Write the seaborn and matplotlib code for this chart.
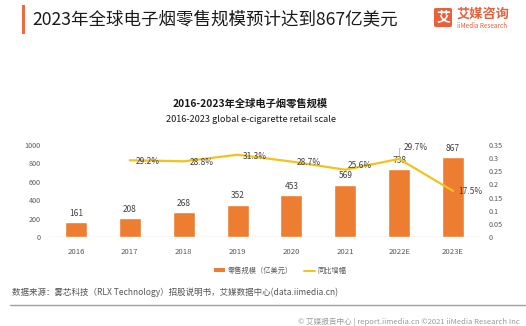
import numpy as np
import pandas as pd
import matplotlib
matplotlib.use("Agg")
import matplotlib.pyplot as plt
from matplotlib.patches import FancyBboxPatch, Rectangle
from matplotlib.lines import Line2D
import seaborn as sns

# ---- data ----
years = ["2016", "2017", "2018", "2019", "2020", "2021", "2022E", "2023E"]
retail = [161, 208, 268, 352, 453, 569, 738, 867]
growth = [np.nan, 0.292, 0.288, 0.313, 0.287, 0.256, 0.297, 0.175]
growth_labels = ["", "29.2%", "28.8%", "31.3%", "28.7%", "25.6%", "29.7%", "17.5%"]
left_ticks = [0, 200, 400, 600, 800, 1000]
right_ticks = [0, 0.05, 0.1, 0.15, 0.2, 0.25, 0.3, 0.35]
right_tick_labels = ["0", "0.05", "0.1", "0.15", "0.2", "0.25", "0.3", "0.35"]

sns.set_style("white")
plt.rcParams['font.family'] = ['Noto Sans CJK SC', 'DejaVu Sans']

W, H = 526, 326
fig = plt.figure(figsize=(W / 100, H / 100), dpi=100)
fig.patch.set_facecolor("white")

def px(x, y):
    return x / W, 1 - y / H

BAR = "#ED7D31"
LINE = "#F4C21C"
TXT = "#404040"
TICK = "#595959"

# ---- header ----
fig.patches.append(Rectangle(px(22, 34), 3 / W, 29 / H, transform=fig.transFigure,
                             facecolor="#EE6A3A", edgecolor="none"))
fig.text(*px(32, 19), "2023年全球电子烟零售规模预计达到867亿美元", fontsize=12.6,
         color="#1a1a1a", va="center", ha="left")
# logo
fig.patches.append(FancyBboxPatch(px(434, 27), 18 / W, 19 / H, transform=fig.transFigure,
                                  boxstyle="round,pad=0,rounding_size=0.004",
                                  facecolor="#E8603C", edgecolor="none"))
fig.text(*px(443, 17.5), "艾", fontsize=10, color="white", fontweight="bold",
         ha="center", va="center")
fig.text(*px(457, 14), "艾媒咨询", fontsize=9.5, color="#E8603C", fontweight="bold",
         ha="left", va="center")
fig.text(*px(457, 25.5), "iiMedia Research", fontsize=4.6, color="#E8603C",
         ha="left", va="center")

# ---- chart titles ----
fig.text(*px(250, 103), "2016-2023年全球电子烟零售规模", fontsize=7.4, fontweight="bold",
         color="#1a1a1a", ha="center", va="center")
fig.text(*px(251, 119), "2016-2023 global e-cigarette retail scale", fontsize=6.6,
         color="#1a1a1a", ha="center", va="center")

# ---- axes ----
left, right_, top, bottom = 49, 480, 145, 237
ax = fig.add_axes([left / W, 1 - bottom / H, (right_ - left) / W, (bottom - top) / H])
df = pd.DataFrame({"year": years, "retail": retail})
sns.barplot(data=df, x="year", y="retail", color=BAR, width=0.41, saturation=1,
            ax=ax, zorder=2)
ax.set_xlim(-0.5, len(years) - 0.5)
ax.set_ylim(0, 1000)
ax.set_yticks(left_ticks)
ax.set_xlabel("")
ax.set_ylabel("")
for s in ax.spines.values():
    s.set_visible(False)
ax.axhline(0, color="#D9D9D9", lw=1, zorder=1)
ax.tick_params(axis="y", labelsize=5.2, colors=TICK, length=0, pad=6)
ax.tick_params(axis="x", labelsize=5.6, colors=TICK, length=0, pad=8)
for i, v in enumerate(retail):
    ax.annotate(str(v), (i, v), xytext=(0, 3), textcoords="offset points",
                ha="center", va="bottom", fontsize=6, color=TXT)

ax2 = ax.twinx()
pos = np.arange(len(years))
gdf = pd.DataFrame({"pos": pos, "growth": growth}).dropna()
sns.lineplot(data=gdf, x="pos", y="growth", color=LINE, lw=1.6, ax=ax2, zorder=3)
ax2.set_ylim(0, 0.35)
ax2.set_yticks(right_ticks)
ax2.set_yticklabels(right_tick_labels)
ax2.set_ylabel("")
ax2.set_xlabel("")
for s in ax2.spines.values():
    s.set_visible(False)
ax2.tick_params(axis="y", labelsize=5.2, colors=TICK, length=0, pad=6)
for lbl in ax2.get_yticklabels():
    lbl.set_ha("left")
ax2.set_xlim(-0.5, len(years) - 0.5)

offsets = {1: (4, -1), 2: (4, -1), 3: (4, -1), 4: (4, -1), 5: (2, 3), 7: (4, 0)}
for i, (g, lab) in enumerate(zip(growth, growth_labels)):
    if not lab:
        continue
    if i == 6:
        ax2.annotate(lab, (i, g), xytext=(3, 8), textcoords="offset points",
                     ha="left", va="center", fontsize=6, color=TXT,
                     arrowprops=dict(arrowstyle="-", color="#A6A6A6", lw=0.5,
                                     connectionstyle="angle,angleA=0,angleB=90,rad=0",
                                     shrinkA=0, shrinkB=2))
    else:
        dx, dy = offsets[i]
        ax2.annotate(lab, (i, g), xytext=(dx, dy), textcoords="offset points",
                     ha="left", va="center", fontsize=6, color=TXT)

# ---- legend ----
handles = [Rectangle((0, 0), 1, 1, facecolor=BAR, edgecolor="none"),
           Line2D([0], [0], color=LINE, lw=1.4)]
fig.legend(handles, ["零售规模（亿美元）", "同比增幅"], loc="center",
           bbox_to_anchor=px(280, 271), ncol=2, frameon=False, fontsize=5.2,
           labelcolor=TICK, handlelength=1.6, handleheight=0.5, columnspacing=1.5,
           handletextpad=0.3)

# ---- footer ----
fig.text(*px(12, 292), "数据来源：雾芯科技（RLX Technology）招股说明书，艾媒数据中心(data.iimedia.cn)",
         fontsize=6.1, color="#555555", ha="left", va="center")
fig.lines.append(Line2D([10 / W, 1], [1 - 305 / H, 1 - 305 / H], transform=fig.transFigure,
                        color="#A0A0A0", lw=1))
fig.text(*px(298, 322), "© 艾媒报告中心 | report.iimedia.cn ©2021 iiMedia Research Inc",
         fontsize=5.5, color="#9A9A9A", ha="left", va="center")

fig.savefig("out.png", dpi=100, facecolor="white")
